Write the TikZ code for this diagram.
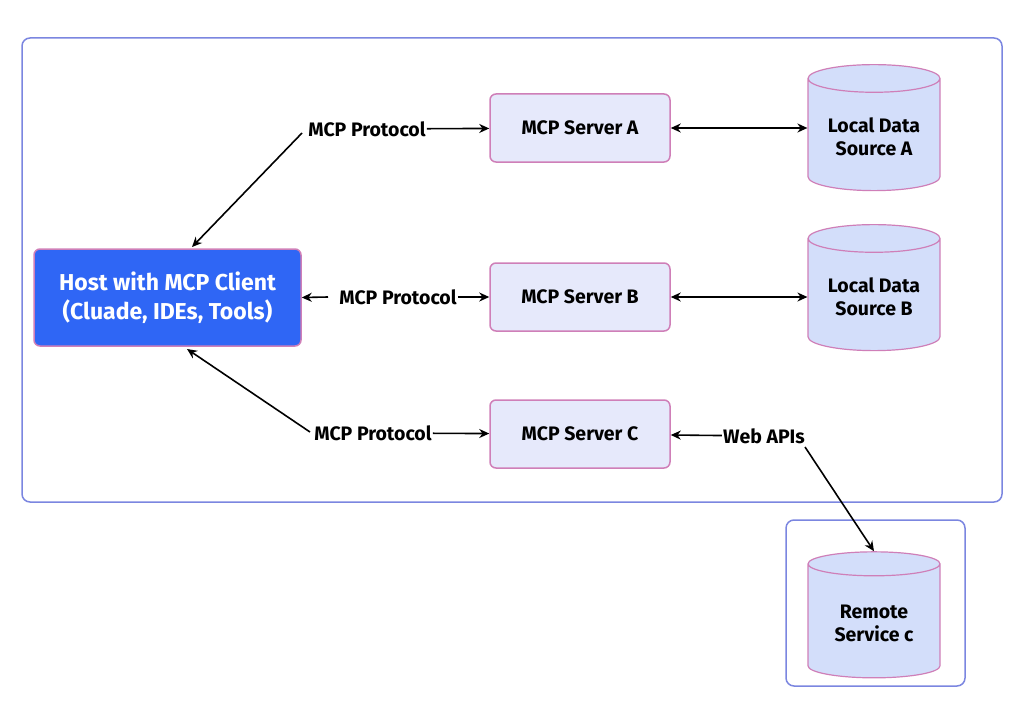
\documentclass[tikz,border=0pt]{standalone}
\usepackage{fontspec}
\setmainfont{Fira Sans}
\usetikzlibrary{shapes.geometric,arrows.meta}
\definecolor{frame}{HTML}{7B86E0}
\definecolor{hostc}{HTML}{2F66F5}
\definecolor{srvf}{HTML}{E6E9FB}
\definecolor{srvd}{HTML}{CF7FB8}
\definecolor{cylf}{HTML}{D3DEFA}
\tikzset{
  srv/.style={draw=srvd,fill=srvf,line width=1.5pt,rounded corners=6pt,minimum width=180pt,minimum height=68pt,font=\bfseries\fontsize{19.5}{23}\selectfont},
  cyl/.style={cylinder,shape border rotate=90,aspect=0.28,draw=srvd,fill=cylf,line width=1.2pt,minimum width=132pt,minimum height=126pt,align=center,font=\bfseries\fontsize{19.5}{23}\selectfont,text depth=0pt},
  lbl/.style={font=\bfseries\fontsize{19.5}{23}\selectfont,inner sep=1pt},
  ar/.style={-{Stealth[length=10pt,width=9pt]},line width=1.6pt},
  dar/.style={{Stealth[length=10pt,width=9pt]}-{Stealth[length=10pt,width=9pt]},line width=1.6pt}
}
\begin{document}
\begin{tikzpicture}[x=1pt,y=-1pt]
\useasboundingbox (0,0) rectangle (1024,706);
\draw[frame,line width=1.5pt,rounded corners=8pt] (22,38) rectangle (1002,502);
\draw[frame,line width=1.5pt,rounded corners=8pt] (786,520) rectangle (965,686);
\node[draw=srvd,fill=hostc,line width=1.5pt,rounded corners=6pt,minimum width=267pt,minimum height=97pt,text=white,align=center,font=\bfseries\fontsize{23}{29}\selectfont] (host) at (167.5,297.5) {Host with MCP Client\\(Cluade, IDEs, Tools)};
\node[srv] (sa) at (580,128) {MCP Server A};
\node[srv] (sb) at (580,297) {MCP Server B};
\node[srv] (sc) at (580,434) {MCP Server C};
\node[cyl] (ca) at (874,137) {Local Data\\Source A};
\node[cyl] (cb) at (874,297) {Local Data\\Source B};
\node[cyl] (cr) at (874,623) {Remote\\Service c};
\node[lbl] (l1) at (367,129) {MCP Protocol};
\node[lbl] (l2) at (398,297) {MCP Protocol};
\node[lbl] (l3) at (373,433) {MCP Protocol};
\node[lbl] (w) at (764,436) {Web APIs};
\coordinate (l1a) at (302,133);
\coordinate (l2a) at (328,297);
\coordinate (l3a) at (310,432);
\coordinate (wa) at (805,447);
\draw[ar] (l1) -- (sa);
\draw[ar] (l1a) -- (192,247);
\draw[ar] (l2a) -- (host.east);
\draw[ar] (l2) -- (sb);
\draw[ar] (l3a) -- (187,349);
\draw[ar] (l3) -- (sc);
\draw[dar] (sa) -- (ca.west|-sa);
\draw[dar] (sb) -- (cb.west|-sb);
\draw[ar] (w) -- (sc);
\draw[ar] (wa) -- (cr.top);
\end{tikzpicture}
\end{document}
